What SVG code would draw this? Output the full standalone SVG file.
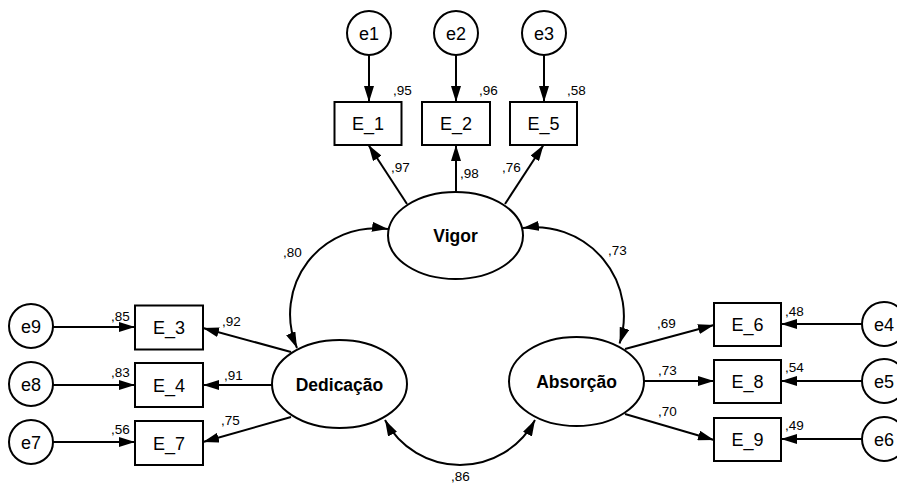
<svg xmlns="http://www.w3.org/2000/svg" width="897" height="484" viewBox="0 0 897 484">
  <defs>
    <marker id="arrow" markerUnits="userSpaceOnUse" markerWidth="17" markerHeight="10" refX="16" refY="5" orient="auto-start-reverse">
      <path d="M0,0 L16,5 L0,10 Z" fill="#000"/>
    </marker>
    <style>
      .obs { fill: #fff; stroke: #000; stroke-width: 2; }
      .lat { fill: #fff; stroke: #000; stroke-width: 2; }
      .err { fill: #fff; stroke: #000; stroke-width: 2; }
      .path { fill: none; stroke: #000; stroke-width: 2; marker-end: url(#arrow); }
      .cov { fill: none; stroke: #000; stroke-width: 2; marker-start: url(#arrow); marker-end: url(#arrow); }
      .t { font-family: "Liberation Sans", Arial, sans-serif; font-size: 18px; fill: #000; text-anchor: middle; }
      .lt { font-family: "Liberation Sans", Arial, sans-serif; font-size: 17.5px; font-weight: bold; fill: #000; text-anchor: middle; }
      .c { font-family: "Liberation Sans", Arial, sans-serif; font-size: 13.5px; fill: #000; }
    </style>
  </defs>
  <rect width="897" height="484" fill="#fff"/>

  <!-- connectors -->
  <g id="connectors">
    <!-- error terms to indicators -->
    <line class="path" x1="369" y1="55" x2="369" y2="102"/>
    <line class="path" x1="456" y1="55" x2="456" y2="102"/>
    <line class="path" x1="544" y1="55" x2="544" y2="102"/>
    <line class="path" x1="53" y1="327" x2="135" y2="327"/>
    <line class="path" x1="53" y1="385" x2="135" y2="385"/>
    <line class="path" x1="53" y1="442" x2="135" y2="442"/>
    <line class="path" x1="862" y1="324" x2="781" y2="324"/>
    <line class="path" x1="862" y1="381" x2="781" y2="381"/>
    <line class="path" x1="862" y1="439" x2="781" y2="439"/>
    <!-- loadings -->
    <line class="path" x1="407" y1="204" x2="368.5" y2="145"/>
    <line class="path" x1="456" y1="192" x2="456" y2="145"/>
    <line class="path" x1="505" y1="204" x2="543.5" y2="145"/>
    <line class="path" x1="291" y1="352" x2="203" y2="328"/>
    <line class="path" x1="272" y1="385" x2="203" y2="385"/>
    <line class="path" x1="291" y1="417" x2="203" y2="442"/>
    <line class="path" x1="625" y1="349" x2="714" y2="325"/>
    <line class="path" x1="644" y1="381" x2="714" y2="381"/>
    <line class="path" x1="625" y1="414" x2="714" y2="440"/>
    <!-- covariances -->
    <path class="cov" d="M388,229 A86,86 0 0,0 297,348"/>
    <path class="cov" d="M523,228 A89,89 0 0,1 619.6,343.5"/>
    <path class="cov" d="M385,420 A85,85 0 0,0 535,420"/>
  </g>

  <!-- latent factors -->
  <g id="vigor">
    <ellipse class="lat" cx="455.5" cy="235.5" rx="67.5" ry="43.5"/>
    <text class="lt" x="455.5" y="242">Vigor</text>
  </g>
  <g id="dedicacao">
    <ellipse class="lat" cx="339.5" cy="384" rx="67.5" ry="44"/>
    <text class="lt" x="339.5" y="390.5">Dedicação</text>
  </g>
  <g id="absorcao">
    <ellipse class="lat" cx="576.5" cy="381.5" rx="67.5" ry="44.5"/>
    <text class="lt" x="576.5" y="388">Absorção</text>
  </g>

  <!-- observed indicators -->
  <g id="E_1"><rect class="obs" x="334.5" y="102" width="67" height="43"/><text class="t" x="368" y="130">E_1</text></g>
  <g id="E_2"><rect class="obs" x="422" y="102" width="68" height="43"/><text class="t" x="456" y="130">E_2</text></g>
  <g id="E_5"><rect class="obs" x="510" y="102" width="67" height="43"/><text class="t" x="543.5" y="130">E_5</text></g>
  <g id="E_3"><rect class="obs" x="135" y="305.5" width="68" height="44"/><text class="t" x="169" y="334">E_3</text></g>
  <g id="E_4"><rect class="obs" x="135" y="363" width="68" height="44"/><text class="t" x="169" y="391.5">E_4</text></g>
  <g id="E_7"><rect class="obs" x="135" y="421" width="68" height="44"/><text class="t" x="169" y="449.5">E_7</text></g>
  <g id="E_6"><rect class="obs" x="714" y="303" width="67" height="43"/><text class="t" x="747.5" y="331">E_6</text></g>
  <g id="E_8"><rect class="obs" x="714" y="360" width="67" height="43"/><text class="t" x="747.5" y="388">E_8</text></g>
  <g id="E_9"><rect class="obs" x="714" y="418" width="67" height="43"/><text class="t" x="747.5" y="446">E_9</text></g>

  <!-- error terms -->
  <g id="e1"><circle class="err" cx="369" cy="33" r="22"/><text class="t" x="369" y="39.5">e1</text></g>
  <g id="e2"><circle class="err" cx="456" cy="33" r="22"/><text class="t" x="456" y="39.5">e2</text></g>
  <g id="e3"><circle class="err" cx="544" cy="33" r="22"/><text class="t" x="544" y="39.5">e3</text></g>
  <g id="e9"><circle class="err" cx="31" cy="326" r="22"/><text class="t" x="31" y="332.5">e9</text></g>
  <g id="e8"><circle class="err" cx="31" cy="384" r="22"/><text class="t" x="31" y="390.5">e8</text></g>
  <g id="e7"><circle class="err" cx="31" cy="442" r="22"/><text class="t" x="31" y="448.5">e7</text></g>
  <g id="e4"><circle class="err" cx="884" cy="324" r="22"/><text class="t" x="884" y="330.5">e4</text></g>
  <g id="e5"><circle class="err" cx="884" cy="381" r="22"/><text class="t" x="884" y="387.5">e5</text></g>
  <g id="e6"><circle class="err" cx="884" cy="439" r="22"/><text class="t" x="884" y="445.5">e6</text></g>

  <!-- estimates -->
  <g id="estimates">
    <text class="c" x="393" y="95">,95</text>
    <text class="c" x="479" y="95">,96</text>
    <text class="c" x="567" y="95">,58</text>
    <text class="c" x="391" y="172">,97</text>
    <text class="c" x="460" y="178">,98</text>
    <text class="c" x="502" y="172">,76</text>
    <text class="c" x="283" y="257">,80</text>
    <text class="c" x="608" y="255">,73</text>
    <text class="c" x="451" y="481">,86</text>
    <text class="c" x="111" y="321">,85</text>
    <text class="c" x="111" y="377">,83</text>
    <text class="c" x="111" y="434">,56</text>
    <text class="c" x="222" y="326">,92</text>
    <text class="c" x="224" y="380">,91</text>
    <text class="c" x="221" y="425">,75</text>
    <text class="c" x="657" y="328">,69</text>
    <text class="c" x="658" y="375">,73</text>
    <text class="c" x="658" y="416">,70</text>
    <text class="c" x="785" y="316">,48</text>
    <text class="c" x="785" y="372">,54</text>
    <text class="c" x="785" y="430">,49</text>
  </g>
</svg>
